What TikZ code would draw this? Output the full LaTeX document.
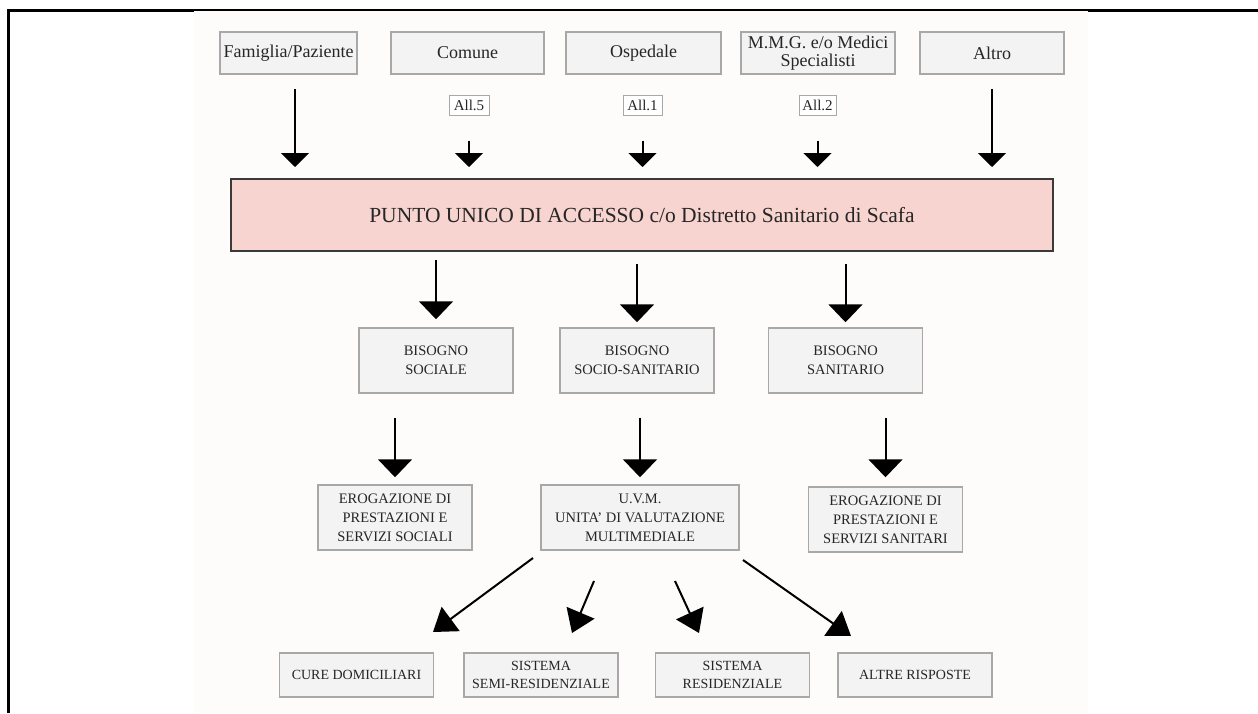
\documentclass[tikz,border=0pt]{standalone}
\usepackage{fontspec}
\setmainfont{Liberation Serif}
\usepackage{tikz}
\usetikzlibrary{arrows.meta,calc}
\definecolor{boxline}{HTML}{A8A8A8}
\definecolor{boxfill}{HTML}{F3F3F3}
\definecolor{puafill}{HTML}{F7D4D0}
\definecolor{pualine}{HTML}{3A3A3A}
\definecolor{paper}{HTML}{FEFCFA}
\definecolor{ink}{HTML}{262626}
\tikzset{
  source/.style={
    draw=boxline,
    line width=1.5pt,
    fill=boxfill,
    align=center,
    inner sep=0pt,
    minimum height=42pt,
    text=ink,
    font=\fontsize{18}{18.5}\selectfont
  },
  allegato/.style={
    draw=boxline,
    line width=1pt,
    fill=white,
    inner sep=0pt,
    minimum height=20pt,
    text=ink,
    font=\fontsize{15}{15}\selectfont
  },
  pua/.style={
    draw=pualine,
    line width=2pt,
    fill=puafill,
    inner sep=0pt,
    minimum width=822pt,
    minimum height=72pt,
    text=ink,
    font=\fontsize{21.5}{22}\selectfont
  },
  needbox/.style={
    draw=boxline,
    line width=1.5pt,
    fill=boxfill,
    align=center,
    inner sep=0pt,
    minimum width=154pt,
    minimum height=65pt,
    text=ink,
    font=\fontsize{14.5}{19}\selectfont
  },
  answerbox/.style={
    draw=boxline,
    line width=1.5pt,
    fill=boxfill,
    align=center,
    inner sep=0pt,
    minimum width=154pt,
    minimum height=44pt,
    text=ink,
    font=\fontsize{14}{18}\selectfont
  },
  toparrow/.style={line width=2pt, draw=black, -{Triangle[width=28pt,length=14pt]}},
  midarrow/.style={line width=2pt, draw=black, -{Triangle[width=34pt,length=18pt]}},
  diagarrow/.style={line width=2pt, draw=black, -{Triangle[width=30pt,length=22pt]}}
}

\begin{document}
\begin{tikzpicture}[x=1pt,y=-1pt]
\path[use as bounding box] (0,0) rectangle (1258,713);
\fill[white] (0,0) rectangle (1258,713);
\fill[paper] (194,11) rectangle (1088,713);
% frame of the page
\draw[line width=3pt] (7,10) -- (194,10);
\draw[line width=3pt] (1088,10) -- (1258,10);
\draw[line width=1.5pt] (194,10) -- (1088,10);
\draw[line width=3pt] (8,9) -- (8,713);

% who sends the request
\node[source, minimum width=137pt] (fam) at (288.5,53) {Famiglia/Paziente};
\node[source, minimum width=153pt] (com) at (467.5,53) {Comune};
\node[source, minimum width=155pt] (osp) at (643.5,53) {Ospedale};
\node[source, minimum width=154pt] (mmg) at (818,53) {M.M.G. e/o Medici\\Specialisti};
\node[source, minimum width=144pt] (alt) at (992,53) {Altro};

\node[allegato, minimum width=40pt] (all5) at (469,105) {All.5};
\node[allegato, minimum width=39pt] (all1) at (642.5,105) {All.1};
\node[allegato, minimum width=37pt] (all2) at (817.5,105) {All.2};

\node[pua] (pua) at (642,215) {PUNTO UNICO DI ACCESSO c/o Distretto Sanitario di Scafa};

% needs
\node[needbox] (bsoc) at (436,360.5) {BISOGNO\\SOCIALE};
\node[needbox] (bss) at (637,360.5) {BISOGNO\\SOCIO-SANITARIO};
\node[needbox] (bsan) at (845.5,360.5) {BISOGNO\\SANITARIO};

\node[needbox] (esoc) at (395,517.5) {EROGAZIONE DI\\PRESTAZIONI E\\SERVIZI SOCIALI};
\node[needbox, minimum width=198pt] (uvm) at (640,517.5) {U.V.M.\\UNITA' DI VALUTAZIONE\\MULTIMEDIALE};
\node[needbox] (esan) at (885.5,519.5) {EROGAZIONE DI\\PRESTAZIONI E\\SERVIZI SANITARI};

% answers of the U.V.M.
\node[answerbox] (cure) at (356.5,675) {CURE DOMICILIARI};
\node[answerbox] (semi) at (541,675) {SISTEMA\\SEMI-RESIDENZIALE};
\node[answerbox] (resi) at (732.5,675) {SISTEMA\\RESIDENZIALE};
\node[answerbox] (altre) at (915,675) {ALTRE RISPOSTE};

\coordinate (u1) at (533,558);
\coordinate (u2) at (594,581);
\coordinate (u3) at (675,581);
\coordinate (u4) at (743,560);
\coordinate (c1) at (433,632);
\coordinate (c2) at (572,633);
\coordinate (c3) at (699,633);
\coordinate (c4) at (851,636);

\draw[toparrow, shorten <=14pt, shorten >=11pt] (fam.south -| 295,0) -- (pua.north -| 295,0);
\draw[toparrow, shorten <=25pt, shorten >=11pt] (all5.south) -- (all5.south |- pua.north);
\draw[toparrow, shorten <=25pt, shorten >=11pt] (all1.south) -- (all1.south |- pua.north);
\draw[toparrow, shorten <=25pt, shorten >=11pt] (all2.south) -- (all2.south |- pua.north);
\draw[toparrow, shorten <=14pt, shorten >=11pt] (alt.south) -- (alt.south |- pua.north);

\draw[midarrow, shorten <=8pt, shorten >=8pt] (pua.south -| bsoc.north) -- (bsoc.north);
\draw[midarrow, shorten <=12pt, shorten >=5pt] (pua.south -| bss.north) -- (bss.north);
\draw[midarrow, shorten <=12pt, shorten >=5pt] (pua.south -| bsan.north) -- (bsan.north);

\draw[midarrow, shorten <=24pt, shorten >=7pt] (bsoc.south -| esoc.north) -- (esoc.north);
\draw[midarrow, shorten <=24pt, shorten >=7pt] (bss.south -| uvm.north) -- (uvm.north);
\draw[midarrow, shorten <=24pt, shorten >=9pt] (bsan.south -| esan.north) -- (esan.north);

\draw[diagarrow] (u1) -- (c1);
\draw[diagarrow] (u2) -- (c2);
\draw[diagarrow] (u3) -- (c3);
\draw[diagarrow] (u4) -- (c4);

\end{tikzpicture}
\end{document}
